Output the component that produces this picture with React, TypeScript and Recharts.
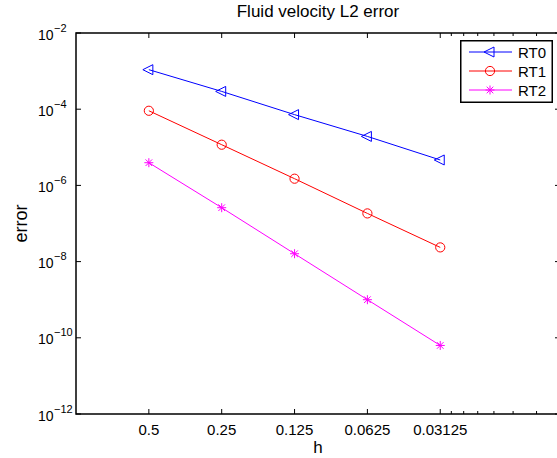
import React from "react";
import { Legend, Line, LineChart, ReferenceArea, XAxis, YAxis } from "recharts";

const H_VALUES = [0.5, 0.25, 0.125, 0.0625, 0.03125];
const H_LABELS = ["0.5", "0.25", "0.125", "0.0625", "0.03125"];
const H_MINOR = [0.028125, 0.025, 0.021875, 0.01875, 0.015625, 0.0125];
const RT0 = [1.09e-3, 2.93e-4, 7.2e-5, 1.93e-5, 4.65e-6];
const RT1 = [9.1e-5, 1.17e-5, 1.5e-6, 1.84e-7, 2.36e-8];
const RT2 = [3.94e-6, 2.6e-7, 1.61e-8, 1.0e-9, 6.3e-11];
const Y_TICKS = [1e-12, 1e-10, 1e-8, 1e-6, 1e-4, 1e-2];

const FONT = '"Liberation Sans", Arial, Helvetica, sans-serif';

// plot box in px (chart is wider than the window, right edge falls just outside)
const CHART_W = 600;
const CHART_H = 458;
const TOP = 33;
const BOTTOM = 414;
const LEFT = 76;
const RIGHT = 560;

const data = H_VALUES.map((h, i) => ({ h, rt0: RT0[i], rt1: RT1[i], rt2: RT2[i] }));

type Marker = "tri" | "circle" | "star";

const SERIES: { key: string; name: string; color: string; marker: Marker }[] = [
  { key: "rt0", name: "RT0", color: "#0000ff", marker: "tri" },
  { key: "rt1", name: "RT1", color: "#ff0000", marker: "circle" },
  { key: "rt2", name: "RT2", color: "#ff00ff", marker: "star" },
];

function markerShape(marker: Marker, cx: number, cy: number, color: string, key?: string) {
  if (marker === "tri") {
    return (
      <polygon
        key={key}
        points={`${cx - 6},${cy} ${cx + 4},${cy - 5} ${cx + 4},${cy + 5}`}
        fill="none"
        stroke={color}
        strokeWidth={1}
      />
    );
  }
  if (marker === "circle") {
    return <circle key={key} cx={cx} cy={cy} r={4.6} fill="none" stroke={color} strokeWidth={1} />;
  }
  return (
    <g key={key} stroke={color} strokeWidth={1}>
      <line x1={cx - 4.5} x2={cx + 4.5} y1={cy} y2={cy} />
      <line x1={cx} x2={cx} y1={cy - 4.5} y2={cy + 4.5} />
      <line x1={cx - 3.3} x2={cx + 3.3} y1={cy - 3.3} y2={cy + 3.3} />
      <line x1={cx - 3.3} x2={cx + 3.3} y1={cy + 3.3} y2={cy - 3.3} />
    </g>
  );
}

function XTick(props: any) {
  const { x, payload } = props;
  const idx = H_VALUES.indexOf(payload.value);
  const len = idx >= 0 ? 5 : 3;
  return (
    <g>
      <line x1={x} x2={x} y1={BOTTOM} y2={BOTTOM - len} stroke="#000" />
      <line x1={x} x2={x} y1={TOP} y2={TOP + len} stroke="#000" />
      {idx >= 0 && (
        <text x={x} y={435} textAnchor="middle" fontSize={15} fontFamily={FONT} fill="#000">
          {H_LABELS[idx]}
        </text>
      )}
    </g>
  );
}

function YTick(props: any) {
  const { y, payload } = props;
  const exp = Math.round(Math.log10(payload.value));
  return (
    <g>
      <line x1={LEFT} x2={LEFT + 5} y1={y} y2={y} stroke="#000" />
      <line x1={RIGHT} x2={RIGHT - 5} y1={y} y2={y} stroke="#000" />
      <text x={38} y={y + 6.5} fontSize={14} fontFamily={FONT} fill="#000">
        10
      </text>
      <text x={54} y={y - 1.5} fontSize={11} fontFamily={FONT} fill="#000">
        {"\u2212" + Math.abs(exp)}
      </text>
    </g>
  );
}

function LegendBox() {
  return (
    <svg width={93} height={63} style={{ display: "block" }}>
      <rect x={0.75} y={0.75} width={91.5} height={61.5} fill="#fff" stroke="#000" strokeWidth={1.5} />
      {SERIES.map((s, i) => {
        const cy = 12 + i * 19;
        return (
          <g key={s.key}>
            <line x1={9} x2={52} y1={cy} y2={cy} stroke={s.color} strokeWidth={1} />
            {markerShape(s.marker, 30, cy, s.color)}
            <text x={58} y={cy + 5.5} fontSize={15} fontFamily={FONT} fill="#000">
              {s.name}
            </text>
          </g>
        );
      })}
    </svg>
  );
}

export default function App() {
  return (
    <div
      style={{
        position: "absolute",
        left: 0,
        top: 0,
        width: 557,
        height: 458,
        overflow: "hidden",
        background: "#fff",
        fontFamily: FONT,
      }}
    >
      <div
        style={{
          position: "absolute",
          left: LEFT,
          width: RIGHT - LEFT,
          top: 2,
          textAlign: "center",
          fontSize: 17,
          color: "#000",
        }}
      >
        Fluid velocity L2 error
      </div>
      <LineChart
        width={CHART_W}
        height={CHART_H}
        data={data}
        margin={{ top: TOP, right: CHART_W - RIGHT, bottom: 0, left: 0 }}
      >
        <ReferenceArea
          x1={0.01}
          x2={1}
          y1={1e-12}
          y2={1e-2}
          fill="none"
          stroke="#000"
          strokeWidth={1.5}
          ifOverflow="visible"
        />
        <XAxis
          dataKey="h"
          type="number"
          scale="log"
          domain={[0.01, 1]}
          reversed
          allowDataOverflow
          ticks={[...H_VALUES, ...H_MINOR]}
          interval={0}
          height={CHART_H - BOTTOM}
          axisLine={false}
          tickLine={false}
          tick={<XTick />}
          label={(p: any) => (
            <text x={(LEFT + RIGHT) / 2} y={453} textAnchor="middle" fontSize={17} fontFamily={FONT} fill="#000">
              h
            </text>
          )}
        />
        <YAxis
          type="number"
          scale="log"
          domain={[1e-12, 1e-2]}
          allowDataOverflow
          ticks={Y_TICKS}
          interval={0}
          width={LEFT}
          axisLine={false}
          tickLine={false}
          tick={<YTick />}
          label={(p: any) => (
            <text
              x={27}
              y={(TOP + BOTTOM) / 2}
              transform={`rotate(-90 27 ${(TOP + BOTTOM) / 2})`}
              textAnchor="middle"
              fontSize={18}
              fontFamily={FONT}
              fill="#000"
            >
              error
            </text>
          )}
        />
        <Legend
          layout="vertical"
          align="center"
          verticalAlign="middle"
          content={() => <LegendBox />}
          wrapperStyle={{ left: 460, top: 40, width: 93, height: 63 }}
        />
        {SERIES.map((s) => (
          <Line
            key={s.key}
            dataKey={s.key}
            name={s.name}
            type="linear"
            stroke={s.color}
            strokeWidth={1}
            isAnimationActive={false}
            dot={(p: any) => markerShape(s.marker, p.cx, p.cy, s.color, `${s.key}-${p.index}`)}
            activeDot={false}
          />
        ))}
      </LineChart>
    </div>
  );
}
